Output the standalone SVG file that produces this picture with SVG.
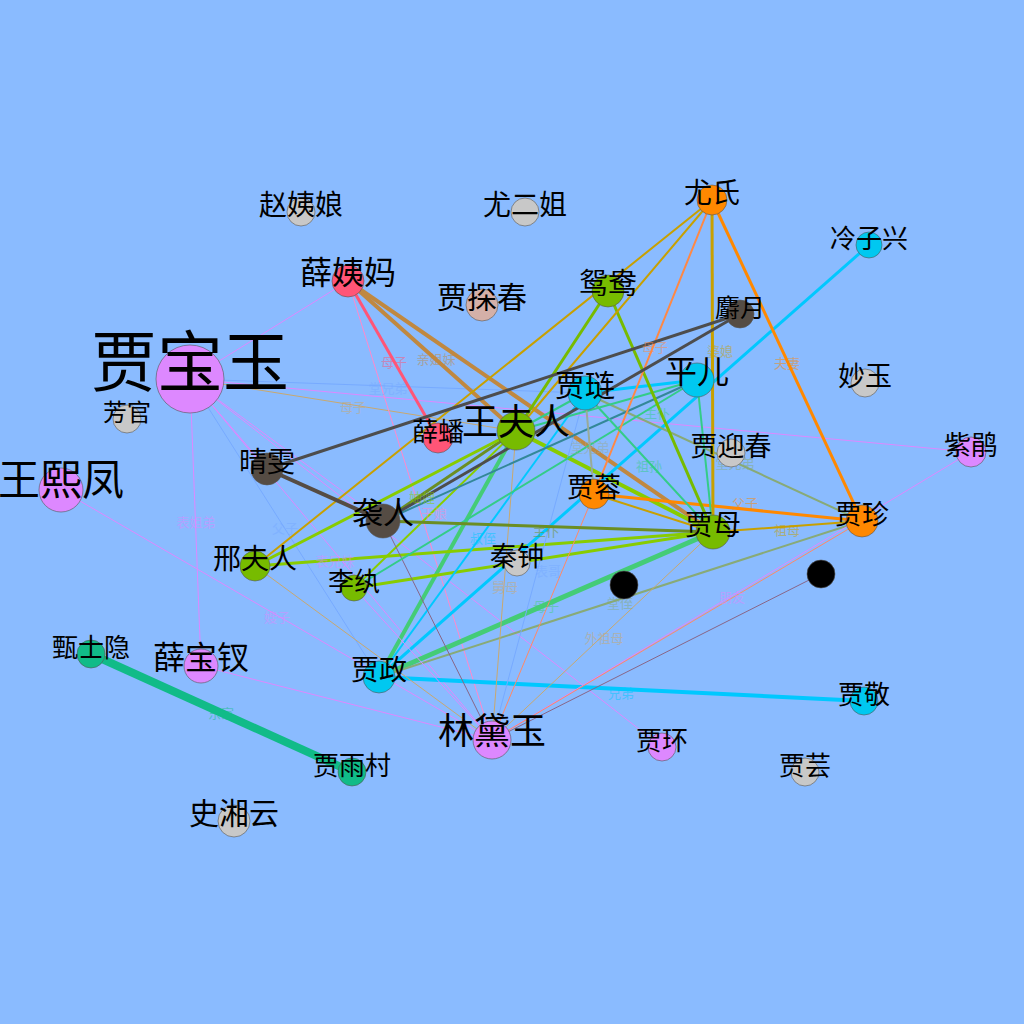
<svg xmlns="http://www.w3.org/2000/svg" width="1024" height="1024" viewBox="0 0 1024 1024">
<style>
.n circle{stroke:#555;stroke-width:0.6}
.n text{font-family:"Noto Sans CJK SC","Noto Sans CJK JP",sans-serif;fill:#000;text-anchor:middle}
#edges line{fill:none}
.el{font-family:"Noto Sans CJK SC",sans-serif;font-size:13px;text-anchor:middle;opacity:0.5}
.v{fill:#DD88FF}.g{fill:#C8C8C8}.r{fill:#FF5577}.o{fill:#FF8800}.c{fill:#00C8F0}.gr{fill:#77BB00}.b{fill:#554C44}.t{fill:#11BB88}.k{fill:#000}
</style>
<rect width="1024" height="1024" fill="#8ABBFF"/>
<g id="edges">
<line x1="190" y1="379" x2="348" y2="281" stroke="#DD88FF" stroke-width="1"/>
<line x1="190" y1="379" x2="585" y2="393" stroke="#77AAFF" stroke-width="1"/>
<line x1="190" y1="379" x2="516" y2="431" stroke="#C8A870" stroke-width="1"/>
<line x1="190" y1="379" x2="971" y2="452" stroke="#DD88FF" stroke-width="1"/>
<line x1="190" y1="379" x2="201" y2="666" stroke="#DD88FF" stroke-width="1"/>
<line x1="190" y1="379" x2="492" y2="740" stroke="#DD88FF" stroke-width="1"/>
<line x1="190" y1="379" x2="662" y2="747" stroke="#DD88FF" stroke-width="1"/>
<line x1="190" y1="379" x2="379" y2="677" stroke="#77AAFF" stroke-width="1"/>
<line x1="190" y1="379" x2="267" y2="469" stroke="#DD88FF" stroke-width="1"/>
<line x1="190" y1="379" x2="383" y2="521" stroke="#DD88FF" stroke-width="1"/>
<line x1="61" y1="490" x2="492" y2="740" stroke="#DD88FF" stroke-width="1"/>
<line x1="201" y1="666" x2="492" y2="740" stroke="#DD88FF" stroke-width="1"/>
<line x1="91" y1="654" x2="352" y2="772" stroke="#11BB88" stroke-width="8"/>
<line x1="348" y1="281" x2="438" y2="438" stroke="#FF5577" stroke-width="3"/>
<line x1="348" y1="281" x2="516" y2="431" stroke="#C08840" stroke-width="4"/>
<line x1="348" y1="281" x2="713" y2="532" stroke="#C08840" stroke-width="4"/>
<line x1="348" y1="281" x2="492" y2="740" stroke="#FF88CC" stroke-width="1"/>
<line x1="516" y1="431" x2="379" y2="677" stroke="#44CC77" stroke-width="4"/>
<line x1="516" y1="431" x2="713" y2="532" stroke="#88CC00" stroke-width="4"/>
<line x1="516" y1="431" x2="383" y2="521" stroke="#6B8E23" stroke-width="3"/>
<line x1="516" y1="431" x2="255" y2="566" stroke="#88CC00" stroke-width="3"/>
<line x1="255" y1="566" x2="713" y2="532" stroke="#88CC00" stroke-width="3"/>
<line x1="354" y1="588" x2="713" y2="532" stroke="#88CC00" stroke-width="3"/>
<line x1="354" y1="588" x2="516" y2="431" stroke="#88CC00" stroke-width="2"/>
<line x1="379" y1="677" x2="713" y2="532" stroke="#44CC77" stroke-width="5"/>
<line x1="379" y1="677" x2="864" y2="701" stroke="#00C8FF" stroke-width="4"/>
<line x1="379" y1="677" x2="585" y2="393" stroke="#00C8FF" stroke-width="2"/>
<line x1="379" y1="677" x2="869" y2="245" stroke="#00C8FF" stroke-width="3"/>
<line x1="379" y1="677" x2="862" y2="521" stroke="#88AA77" stroke-width="2"/>
<line x1="516" y1="431" x2="492" y2="740" stroke="#C8A870" stroke-width="1"/>
<line x1="255" y1="566" x2="492" y2="740" stroke="#C8A870" stroke-width="1"/>
<line x1="383" y1="521" x2="492" y2="740" stroke="#886688" stroke-width="1"/>
<line x1="354" y1="588" x2="492" y2="740" stroke="#DD88FF" stroke-width="1"/>
<line x1="585" y1="393" x2="492" y2="740" stroke="#77AAFF" stroke-width="1"/>
<line x1="594" y1="494" x2="492" y2="740" stroke="#FF8866" stroke-width="1"/>
<line x1="971" y1="452" x2="492" y2="740" stroke="#DD88FF" stroke-width="1"/>
<line x1="862" y1="521" x2="492" y2="740" stroke="#FF8866" stroke-width="1"/>
<line x1="821" y1="574" x2="492" y2="740" stroke="#886688" stroke-width="1"/>
<line x1="713" y1="532" x2="492" y2="740" stroke="#C8A870" stroke-width="1"/>
<line x1="862" y1="521" x2="594" y2="494" stroke="#FF8800" stroke-width="3"/>
<line x1="712" y1="200" x2="862" y2="521" stroke="#FF8800" stroke-width="3"/>
<line x1="862" y1="521" x2="713" y2="532" stroke="#C8A000" stroke-width="2"/>
<line x1="862" y1="521" x2="585" y2="393" stroke="#88AA77" stroke-width="2"/>
<line x1="697" y1="380" x2="585" y2="393" stroke="#00C8FF" stroke-width="3"/>
<line x1="697" y1="380" x2="516" y2="431" stroke="#33CC88" stroke-width="2"/>
<line x1="697" y1="380" x2="383" y2="521" stroke="#338899" stroke-width="2"/>
<line x1="697" y1="380" x2="354" y2="588" stroke="#33CC88" stroke-width="2"/>
<line x1="697" y1="380" x2="713" y2="532" stroke="#33CC88" stroke-width="2"/>
<line x1="608" y1="291" x2="713" y2="532" stroke="#77BB00" stroke-width="3"/>
<line x1="608" y1="291" x2="516" y2="431" stroke="#77BB00" stroke-width="3"/>
<line x1="712" y1="200" x2="255" y2="566" stroke="#C8A000" stroke-width="2"/>
<line x1="712" y1="200" x2="516" y2="431" stroke="#C8A000" stroke-width="2"/>
<line x1="712" y1="200" x2="594" y2="494" stroke="#FF8844" stroke-width="2"/>
<line x1="712" y1="200" x2="713" y2="532" stroke="#C8A000" stroke-width="3"/>
<line x1="585" y1="393" x2="713" y2="532" stroke="#33CC88" stroke-width="2"/>
<line x1="585" y1="393" x2="594" y2="494" stroke="#99AA99" stroke-width="2"/>
<line x1="585" y1="393" x2="516" y2="431" stroke="#33CC88" stroke-width="2"/>
<line x1="594" y1="494" x2="713" y2="532" stroke="#C8A000" stroke-width="2"/>
<line x1="267" y1="469" x2="383" y2="521" stroke="#554C44" stroke-width="4"/>
<line x1="740" y1="314" x2="267" y2="469" stroke="#4D4D4D" stroke-width="3"/>
<line x1="740" y1="314" x2="383" y2="521" stroke="#4D4D4D" stroke-width="3"/>
<line x1="383" y1="521" x2="713" y2="532" stroke="#6B8E23" stroke-width="3"/>
<g id="edge-labels">
<text class="el" x="388" y="393" fill="#77AAFF">堂兄弟</text>
<text class="el" x="353" y="412" fill="#C8A870">母子</text>
<text class="el" x="196" y="527" fill="#DD88FF">表姐弟</text>
<text class="el" x="335" y="566" fill="#DD88FF">表兄妹</text>
<text class="el" x="285" y="533" fill="#77AAFF">父子</text>
<text class="el" x="277" y="622" fill="#DD88FF">嫂子</text>
<text class="el" x="221" y="718" fill="#11BB88">东家</text>
<text class="el" x="394" y="367" fill="#FF5577">母子</text>
<text class="el" x="436" y="364" fill="#C08840">亲姐妹</text>
<text class="el" x="434" y="518" fill="#FF88CC">干娘</text>
<text class="el" x="422" y="502" fill="#88CC00">妯娌</text>
<text class="el" x="546" y="611" fill="#44CC77">母子</text>
<text class="el" x="621" y="698" fill="#00C8FF">兄弟</text>
<text class="el" x="483" y="543" fill="#00C8FF">叔侄</text>
<text class="el" x="620" y="608" fill="#88AA77">堂侄</text>
<text class="el" x="505" y="592" fill="#C8A870">舅母</text>
<text class="el" x="548" y="576" fill="#77AAFF">表哥</text>
<text class="el" x="732" y="602" fill="#DD88FF">朋友</text>
<text class="el" x="604" y="643" fill="#C8A870">外祖母</text>
<text class="el" x="745" y="508" fill="#FF8800">父子</text>
<text class="el" x="787" y="368" fill="#FF8800">夫妻</text>
<text class="el" x="787" y="535" fill="#C8A000">祖母</text>
<text class="el" x="735" y="468" fill="#88AA77">堂兄弟</text>
<text class="el" x="655" y="352" fill="#FF8844">母子</text>
<text class="el" x="720" y="356" fill="#C8A000">婆媳</text>
<text class="el" x="649" y="471" fill="#33CC88">祖孙</text>
<text class="el" x="590" y="452" fill="#99AA99">堂兄弟</text>
<text class="el" x="546" y="536" fill="#6B8E23">主仆</text>
<text class="el" x="657" y="418" fill="#33CC88">主仆</text>
</g>
</g>
<g id="n-baoyu" class="n"><circle cx="190" cy="379" r="34" class="v"/><text x="190" y="386" font-size="66">贾宝玉</text></g>
<g id="n-xifeng" class="n"><circle cx="61" cy="490" r="22" class="v"/><text x="61" y="495" font-size="42">王熙凤</text></g>
<g id="n-fangguan" class="n"><circle cx="127" cy="419" r="14" class="g"/><text x="127" y="421" font-size="24">芳官</text></g>
<g id="n-zhaoyiniang" class="n"><circle cx="301" cy="212" r="14" class="g"/><text x="301" y="215" font-size="28">赵姨娘</text></g>
<g id="n-youerjie" class="n"><circle cx="525" cy="212" r="14" class="g"/><text x="525" y="215" font-size="28">尤二姐</text></g>
<g id="n-xueyima" class="n"><circle cx="348" cy="281" r="16" class="r"/><text x="348" y="284" font-size="32">薛姨妈</text></g>
<g id="n-tanchun" class="n"><circle cx="482" cy="305" r="16" fill="#D4B0A8"/><text x="482" y="308" font-size="30">贾探春</text></g>
<g id="n-youshi" class="n"><circle cx="712" cy="200" r="15" class="o"/><text x="712" y="203" font-size="28">尤氏</text></g>
<g id="n-lengzixing" class="n"><circle cx="869" cy="245" r="13" class="c"/><text x="869" y="248" font-size="26">冷子兴</text></g>
<g id="n-yuanyang" class="n"><circle cx="608" cy="291" r="16" class="gr"/><text x="608" y="294" font-size="29">鸳鸯</text></g>
<g id="n-sheyue" class="n"><circle cx="740" cy="314" r="14" class="b"/><text x="740" y="317" font-size="25">麝月</text></g>
<g id="n-pinger" class="n"><circle cx="697" cy="380" r="17" class="c"/><text x="697" y="383" font-size="32">平儿</text></g>
<g id="n-miaoyu" class="n"><circle cx="865" cy="383" r="14" class="g"/><text x="865" y="386" font-size="27">妙玉</text></g>
<g id="n-jialian" class="n"><circle cx="585" cy="393" r="17" class="c"/><text x="585" y="396" font-size="30">贾琏</text></g>
<g id="n-wangfuren" class="n"><circle cx="516" cy="431" r="19" class="gr"/><text x="516" y="435" font-size="36">王夫人</text></g>
<g id="n-xuepan" class="n"><circle cx="438" cy="438" r="15" class="r"/><text x="438" y="441" font-size="26">薛蟠</text></g>
<g id="n-qingwen" class="n"><circle cx="267" cy="469" r="16" class="b"/><text x="267" y="472" font-size="28">晴雯</text></g>
<g id="n-yingchun" class="n"><circle cx="731" cy="453" r="14" class="g"/><text x="731" y="456" font-size="27">贾迎春</text></g>
<g id="n-zijuan" class="n"><circle cx="971" cy="452" r="15" class="v"/><text x="971" y="455" font-size="27">紫鹃</text></g>
<g id="n-jiarong" class="n"><circle cx="594" cy="494" r="15" class="o"/><text x="594" y="497" font-size="27">贾蓉</text></g>
<g id="n-xiren" class="n"><circle cx="383" cy="521" r="17" class="b"/><text x="383" y="524" font-size="31">袭人</text></g>
<g id="n-jiamu" class="n"><circle cx="713" cy="532" r="17" class="gr"/><text x="713" y="535" font-size="28">贾母</text></g>
<g id="n-jiazhen" class="n"><circle cx="862" cy="521" r="16" class="o"/><text x="862" y="524" font-size="27">贾珍</text></g>
<g id="n-xingfuren" class="n"><circle cx="255" cy="566" r="15" class="gr"/><text x="255" y="569" font-size="28">邢夫人</text></g>
<g id="n-qinzhong" class="n"><circle cx="517" cy="563" r="13" class="g"/><text x="517" y="566" font-size="27">秦钟</text></g>
<g id="n-liwan" class="n"><circle cx="354" cy="588" r="13" class="gr"/><text x="354" y="591" font-size="26">李纨</text></g>
<g id="n-black1" class="n"><circle cx="624" cy="585" r="14" class="k"/></g>
<g id="n-black2" class="n"><circle cx="821" cy="574" r="14" class="k"/></g>
<g id="n-zhenshiyin" class="n"><circle cx="91" cy="654" r="14" class="t"/><text x="91" y="657" font-size="26">甄士隐</text></g>
<g id="n-baochai" class="n"><circle cx="201" cy="666" r="17" class="v"/><text x="201" y="669" font-size="32">薛宝钗</text></g>
<g id="n-jiazheng" class="n"><circle cx="379" cy="677" r="16" class="c"/><text x="379" y="680" font-size="28">贾政</text></g>
<g id="n-jiajing" class="n"><circle cx="864" cy="701" r="14" class="c"/><text x="864" y="704" font-size="26">贾敬</text></g>
<g id="n-daiyu" class="n"><circle cx="492" cy="740" r="19" class="v"/><text x="492" y="744" font-size="36">林黛玉</text></g>
<g id="n-jiahuan" class="n"><circle cx="662" cy="747" r="14" class="v"/><text x="662" y="750" font-size="26">贾环</text></g>
<g id="n-yucun" class="n"><circle cx="352" cy="772" r="14" class="t"/><text x="352" y="775" font-size="26">贾雨村</text></g>
<g id="n-jiayun" class="n"><circle cx="805" cy="772" r="14" class="g"/><text x="805" y="775" font-size="26">贾芸</text></g>
<g id="n-xiangyun" class="n"><circle cx="234" cy="821" r="16" class="g"/><text x="234" y="824" font-size="30">史湘云</text></g>
</svg>
